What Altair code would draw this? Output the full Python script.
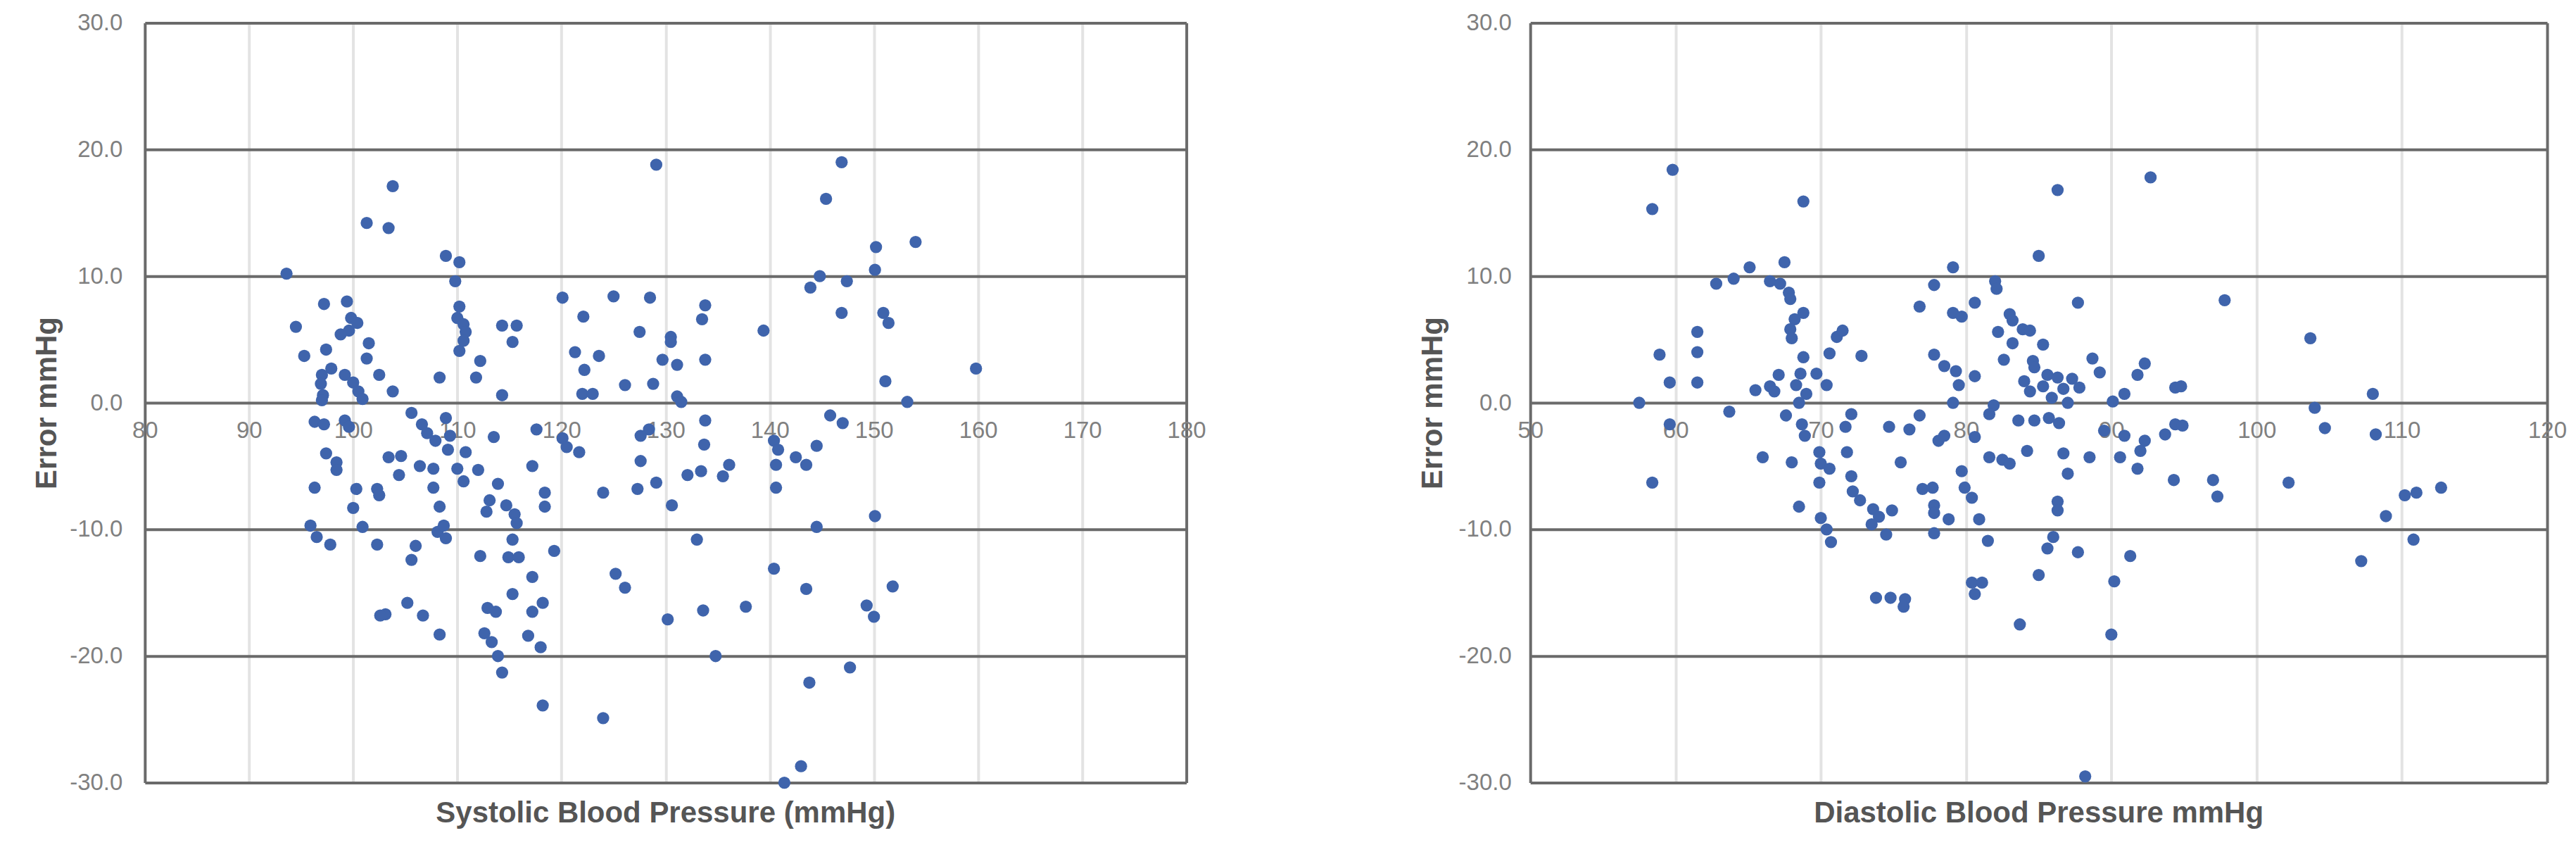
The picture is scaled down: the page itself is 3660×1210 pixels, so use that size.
import altair as alt
import pandas as pd

# ---- Systolic panel data (x = SBP mmHg, y = error mmHg) ----
sys_x = [93.6, 103.8, 101.3, 103.4, 108.9, 110.2, 109.8, 97.2, 99.4, 94.5, 99.8, 100.4, 99.6, 98.8,
         101.5, 101.3, 95.3, 97.4, 102.5, 103.8, 97.0, 96.9, 97.1, 97.0, 97.9, 99.2, 100.0, 100.5,
         100.9, 110.2, 110.0, 110.6, 110.8, 110.6, 110.2, 108.3, 112.2, 111.8, 114.3, 115.7, 115.3,
         114.3, 120.1, 122.1, 125.0, 121.3, 123.6, 122.2, 122.0, 123.0, 126.1,
         96.3, 97.2, 99.2, 99.6, 105.6, 106.6, 107.1, 107.9, 108.9, 109.3, 109.1, 110.8, 113.5, 117.6,
         120.1, 120.5, 121.7, 97.4, 98.4, 98.4, 103.4, 104.6, 104.4, 106.4, 107.7, 110.0, 110.6, 112.0,
         117.2, 96.3, 100.3, 102.3, 102.5, 107.7, 108.3, 113.9, 113.1, 112.8, 114.7, 115.5, 115.7,
         118.4, 118.4, 124.0, 100.0, 95.9, 96.5, 97.8, 100.9, 102.3, 106.0, 105.6, 108.1, 108.7, 108.9,
         112.2, 115.3, 114.9, 115.9, 119.3, 117.2, 115.3, 125.2, 126.1, 105.2, 103.1, 102.6, 106.7,
         112.9, 113.7, 118.2, 117.2, 108.3, 112.6, 113.3, 113.9, 114.3, 116.8, 118.0, 118.2, 124.0,
         129.1, 146.9, 145.4, 150.2, 154.0, 150.1, 144.8, 143.9, 147.4, 128.5, 133.8, 133.5, 127.5,
         130.5, 130.5, 139.4, 146.9, 150.9, 151.4, 129.7, 131.1, 133.8, 128.8, 151.1, 159.8, 131.1,
         131.5, 153.2, 145.8, 147.0, 133.8,
         128.4, 127.6, 133.7, 140.4, 140.8, 140.6, 142.5, 143.5, 144.5, 127.6, 132.1, 133.4, 135.5,
         136.1, 129.1, 127.3, 140.6, 130.6, 150.1, 144.5, 133.0, 140.4, 143.5, 151.8, 133.6, 137.7,
         130.2, 149.3, 150.0, 134.8, 147.7, 143.8, 143.0, 141.4]
sys_err = [10.2, 17.1, 14.2, 13.8, 11.6, 11.1, 9.6, 7.8, 8.0, 6.0, 6.7, 6.3, 5.7, 5.4,
           4.7, 3.5, 3.7, 4.2, 2.2, 0.9, 2.2, 1.5, 0.6, 0.2, 2.7, 2.2, 1.6, 0.9,
           0.3, 7.6, 6.7, 6.2, 5.6, 4.9, 4.1, 2.0, 3.3, 2.0, 6.1, 6.1, 4.8,
           0.6, 8.3, 6.8, 8.4, 4.0, 3.7, 2.6, 0.7, 0.7, 1.4,
           -1.5, -1.7, -1.4, -1.9, -0.8, -1.7, -2.4, -3.0, -1.2, -2.6, -3.7, -3.9, -2.7, -2.1,
           -2.8, -3.5, -3.9, -4.0, -4.7, -5.3, -4.3, -4.2, -5.7, -5.0, -5.2, -5.2, -6.2, -5.3,
           -5.0, -6.7, -6.8, -6.8, -7.3, -6.7, -8.2, -6.4, -7.7, -8.6, -8.1, -8.8, -9.5,
           -7.1, -8.2, -7.1, -8.3, -9.7, -10.6, -11.2, -9.8, -11.2, -11.3, -12.4, -10.2, -9.7, -10.7,
           -12.1, -10.8, -12.2, -12.2, -11.7, -13.75, -15.1, -13.5, -14.6, -15.8, -16.7, -16.8, -16.8,
           -16.2, -16.5, -15.8, -16.5, -18.3, -18.2, -18.9, -20.0, -21.3, -18.4, -19.3, -23.9, -24.9,
           18.8, 19.0, 16.1, 12.3, 12.7, 10.5, 10.0, 9.1, 9.6, 8.3, 7.7, 6.6, 5.6,
           5.2, 4.8, 5.7, 7.1, 7.1, 6.3, 3.4, 3.0, 3.4, 1.5, 1.7, 2.7, 0.5,
           0.07, 0.07, -1.0, -1.6, -1.4,
           -2.1, -2.6, -3.3, -3.0, -3.7, -4.9, -4.3, -4.9, -3.4, -4.6, -5.7, -5.4, -5.8,
           -4.9, -6.3, -6.8, -6.7, -8.1, -8.95, -9.8, -10.8, -13.1, -14.7, -14.5, -16.4, -16.1,
           -17.1, -16.0, -16.9, -20.0, -20.9, -22.1, -28.7, -30.0]

# ---- Diastolic panel data (x = DBP mmHg, y = error mmHg) ----
dia_x = [59.8, 58.4, 68.8, 65.1, 67.5, 62.8, 64.0, 66.5, 67.2, 67.8, 67.9, 68.8, 68.2, 67.9, 68.0,
         61.5, 61.5, 61.5, 58.9, 59.6, 68.8, 70.6, 71.1, 71.5, 72.8, 67.1, 66.5, 65.5, 66.8, 68.6,
         68.3, 69.7, 70.4, 69.0, 57.5, 68.5, 63.7, 67.6, 72.1, 79.1, 77.8, 76.8, 79.1, 79.7, 77.8,
         78.5, 79.3, 79.5, 79.1, 76.8,
         59.6, 58.4, 68.7, 68.9, 71.7, 74.7, 76.1, 78.1, 66.0, 68.0, 69.9, 70.0, 70.6, 69.9, 71.8,
         75.5, 72.1, 72.2, 72.7, 68.5, 73.6, 74.0, 74.9, 73.5, 74.5, 70.0, 70.4, 70.7, 77.0, 77.7,
         77.8, 77.8, 78.8, 77.8, 79.7, 79.9, 73.8, 74.8, 75.8, 75.7, 80.4,
         86.3, 92.7, 85.0, 82.0, 82.1, 80.6, 87.7, 97.8, 83.0, 83.2, 82.2, 83.9, 84.4, 83.2, 85.3,
         103.7, 82.6, 84.6, 84.7, 80.6, 88.7, 89.2, 92.3, 91.8, 84.0, 85.6, 86.3, 87.3, 87.8, 86.7,
         85.3, 84.4, 85.9, 90.9, 90.1, 94.4, 94.8, 108.0, 81.9, 87.0, 104.0, 81.6,
         104.7, 108.2, 80.6, 78.5, 83.6, 84.7, 85.7, 86.4, 89.5, 90.9, 93.7, 94.4, 94.9, 81.6, 82.5,
         83.0, 84.2, 86.7, 88.5, 90.6, 92.0, 92.3, 91.8, 87.0, 94.3, 97.0, 97.3, 102.2, 80.4, 86.3,
         86.3, 110.2, 111.0, 112.7, 108.9, 80.9, 81.5, 86.0, 85.6, 87.7, 91.3, 110.8, 107.2, 85.0,
         81.1, 80.6, 90.2, 83.7, 90.0, 88.2]
dia_err = [18.4, 15.3, 15.9, 10.7, 11.1, 9.4, 9.8, 9.6, 9.4, 8.7, 8.2, 7.1, 6.6, 5.8, 5.1,
           5.6, 4.0, 1.6, 3.8, 1.6, 3.6, 3.9, 5.2, 5.7, 3.7, 2.2, 1.3, 1.0, 0.9, 2.3,
           1.4, 2.3, 1.4, 0.7, 0.0, 0.0, -0.7, -1.0, -0.9, 10.7, 9.3, 7.6, 7.1, 6.8, 3.8,
           2.9, 2.5, 1.4, 0.0, -1.0,
           -1.7, -6.3, -1.7, -2.6, -1.9, -1.9, -2.1, -3.0, -4.3, -4.7, -3.9, -4.8, -5.2, -6.3, -3.9,
           -4.7, -5.8, -7.0, -7.7, -8.2, -8.4, -9.0, -8.5, -9.6, -10.4, -9.1, -10.0, -11.0, -6.8, -6.7,
           -8.1, -8.7, -9.2, -10.3, -5.4, -6.7, -15.4, -15.4, -15.5, -16.1, -14.2,
           16.8, 17.8, 11.6, 9.6, 9.0, 7.9, 7.9, 8.1, 7.0, 6.5, 5.6, 5.8, 5.7, 4.7, 4.6,
           5.1, 3.4, 3.3, 2.8, 2.1, 3.5, 2.4, 3.1, 2.2, 1.7, 2.2, 2.0, 1.9, 1.2, 1.1,
           1.3, 0.9, 0.4, 0.7, 0.1, 1.2, 1.3, 0.7, -0.2, 0.0, -0.4, -0.9,
           -2.0, -2.5, -2.7, -2.6, -1.4, -1.4, -1.2, -1.6, -2.2, -2.6, -2.5, -1.7, -1.8, -4.3, -4.5,
           -4.8, -3.8, -4.0, -4.3, -4.3, -3.8, -3.0, -5.2, -5.6, -6.1, -6.1, -7.4, -6.3, -7.5, -7.8,
           -8.5, -7.3, -7.1, -6.7, -8.95, -9.2, -10.9, -10.6, -11.5, -11.8, -12.1, -10.8, -12.5, -13.6,
           -14.2, -15.1, -14.1, -17.5, -18.3, -29.5]

y_ticks = [-30, -20, -10, 0, 10, 20, 30]
sys_ticks = [80, 90, 100, 110, 120, 130, 140, 150, 160, 170, 180]
dia_ticks = [50, 60, 70, 80, 90, 100, 110, 120]

FONT = "Liberation Sans"
DARK = "#6a6a6a"
LIGHT = "#e3e3e3"
LABEL = "#808080"
TITLE = "#555555"
DOT = "#3f64ac"


def panel(xs, ys, ticks, xtitle, width, height, ylabpad, ytitlepad):
    df = pd.DataFrame({"bp": xs, "err": ys})
    lo, hi = ticks[0], ticks[-1]
    grid_col = {
        "condition": {"test": f"datum.value === {lo} || datum.value === {hi}", "value": DARK},
        "value": LIGHT,
    }
    return (
        alt.Chart(df, title=alt.Title(xtitle, orient="bottom", anchor="middle", fontSize=42,
                                      font=FONT, fontWeight="bold", color=TITLE, offset=6))
        .mark_circle(size=300, opacity=1, color=DOT, clip=False)
        .encode(
            x=alt.X("bp:Q", scale=alt.Scale(domain=[lo, hi], nice=False, zero=False),
                    axis=alt.Axis(values=ticks, format="d", title=None, ticks=False, domain=False,
                                  grid=True, gridColor=grid_col, gridWidth=4,
                                  labelFontSize=33, labelFont=FONT, labelColor=LABEL,
                                  labelPadding=24, offset=-height / 2, labelFlush=False)),
            y=alt.Y("err:Q", scale=alt.Scale(domain=[-30, 30], nice=False, zero=False),
                    axis=alt.Axis(values=y_ticks, title="Error mmHg", ticks=False, domain=False,
                                  labelExpr="replace(format(datum.value, '.1f'), '\u2212', '-')",
                                  grid=True, gridColor=DARK, gridWidth=4,
                                  labelFontSize=33, labelFont=FONT, labelColor=LABEL,
                                  labelPadding=ylabpad, titlePadding=ytitlepad,
                                  titleFontSize=42, titleFont=FONT, titleFontWeight="bold",
                                  titleColor=TITLE)),
        )
        .properties(width=width, height=height)
    )


left = panel(sys_x, sys_err, sys_ticks, "Systolic Blood Pressure (mmHg)", 1481, 1080, 32, 10)
right = panel(dia_x, dia_err, dia_ticks, "Diastolic Blood Pressure mmHg", 1446, 1080, 27, 15)

chart = (
    alt.hconcat(left, right, spacing=300)
    .properties(padding={"left": 37, "top": 8, "right": 5, "bottom": 5})
    .configure_view(strokeWidth=0)
)

chart.save("out.html", embed_options={"renderer": "svg", "actions": False})
